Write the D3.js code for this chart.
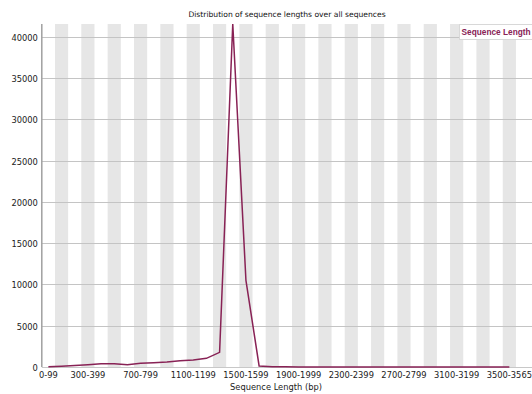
<!DOCTYPE html>
<html><head><meta charset="utf-8">
<script src="https://cdn.jsdelivr.net/npm/d3@7"></script>
<style>body{margin:0;background:#fff}svg{display:block}</style>
</head><body>
<svg id="c" width="532" height="394"></svg>
<script>
const categories = ["0-99","100-199","200-299","300-399","400-499","500-599","600-699","700-799","800-899","900-999","1000-1099","1100-1199","1200-1299","1300-1399","1400-1499","1500-1599","1600-1699","1700-1799","1800-1899","1900-1999","2000-2099","2100-2199","2200-2299","2300-2399","2400-2499","2500-2599","2600-2699","2700-2799","2800-2899","2900-2999","3000-3099","3100-3199","3200-3299","3300-3399","3400-3499","3500-3565"];
const counts = [30,100,180,280,380,380,260,450,520,600,750,850,1050,1780,41575,10500,130,40,20,10,10,5,5,5,5,3,3,2,2,2,1,1,1,1,1,1];
const xTickLabels = ["0-99","300-399","700-799","1100-1199","1500-1599","1900-1999","2300-2399","2700-2799","3100-3199","3500-3565"];
const yTicks = [0,5000,10000,15000,20000,25000,30000,35000,40000];
const title = "Distribution of sequence lengths over all sequences";
const xTitle = "Sequence Length (bp)";
const legendLabel = "Sequence Length";

const svg = d3.select("#c");
const L = 41.8, T = 24, B = 367, bw = 13.17, R = 532;
const x = d3.scaleBand().domain(categories).range([L, L + bw*categories.length]).padding(0);
const y = d3.scaleLinear().domain([0, d3.max(counts)]).range([B, T]);
const font = "DejaVu Sans, sans-serif";

// stripes
svg.append("g").selectAll("rect").data(categories.filter((c,i)=>i%2===1)).join("rect")
  .attr("x", d=>x(d)).attr("y", T).attr("width", x.bandwidth()).attr("height", B-T)
  .attr("fill", "#e6e6e6");

// gridlines
svg.append("g").selectAll("line").data(yTicks.filter(v=>v>0)).join("line")
  .attr("x1", L).attr("x2", R).attr("y1", d=>Math.round(y(d))+0.5).attr("y2", d=>Math.round(y(d))+0.5)
  .attr("stroke", "#c4c4c4").attr("stroke-width", 1);

// y axis
const ya = svg.append("g").attr("transform", `translate(${L},0)`)
  .call(d3.axisLeft(y).tickValues(yTicks).tickSize(0).tickPadding(4).tickFormat(d3.format("d")));
ya.select(".domain").remove();
ya.selectAll("text").attr("font-family", font).attr("font-size", 8.3).attr("fill", "#222").attr("dy", "0.4em");

// x axis
const xa = svg.append("g").attr("transform", `translate(0,${B})`)
  .call(d3.axisBottom(x).tickValues(xTickLabels).tickSize(0).tickPadding(5));
xa.select(".domain").remove();
xa.selectAll("text").attr("font-family", font).attr("font-size", 8.3).attr("fill", "#222");

// axis lines
svg.append("line").attr("x1", L).attr("x2", L).attr("y1", T).attr("y2", B).attr("stroke", "#a0a0a0").attr("stroke-width", 1.5);
svg.append("line").attr("x1", L).attr("x2", R).attr("y1", B+0.5).attr("y2", B+0.5).attr("stroke", "#c8c8c8").attr("stroke-width", 1);

// line
svg.append("path").datum(counts)
  .attr("d", d3.line().x((d,i)=>x(categories[i]) + x.bandwidth()/2).y(d=>y(d)))
  .attr("fill", "none").attr("stroke", "#882255").attr("stroke-width", 1.5);

// title
svg.append("text").attr("x", 287).attr("y", 17).attr("text-anchor", "middle")
  .attr("font-family", font).attr("font-size", 7.6).attr("fill", "#111").text(title);
svg.append("text").attr("x", 276).attr("y", 390).attr("text-anchor", "middle")
  .attr("font-family", font).attr("font-size", 8.3).attr("fill", "#222").text(xTitle);

// legend
svg.append("rect").attr("x", 459.5).attr("y", 24.5).attr("width", 80).attr("height", 15)
  .attr("fill", "#fff").attr("stroke", "#d8d8d8");
svg.append("text").attr("x", 461.5).attr("y", 35).attr("font-family", "Liberation Sans, Arial, sans-serif")
  .attr("font-weight", "bold").attr("font-size", 8.3).attr("fill", "#882255").text(legendLabel);
</script>
</body></html>
